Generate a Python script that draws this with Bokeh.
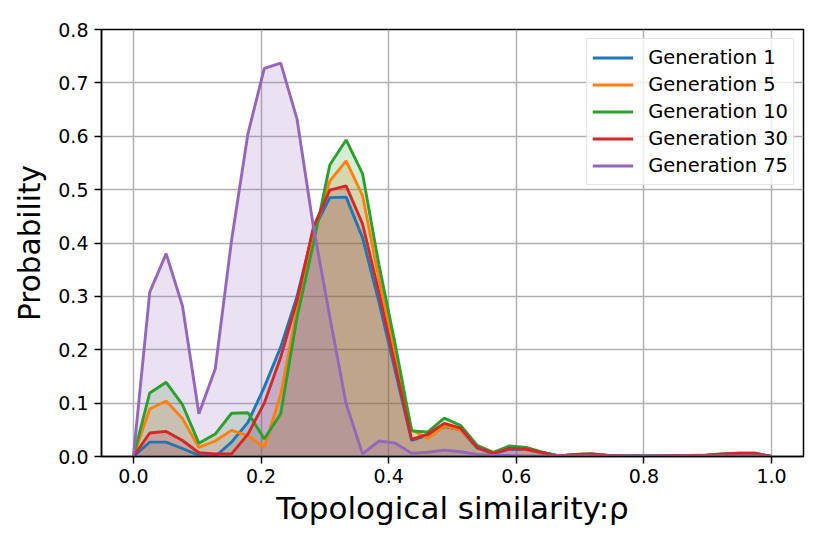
from bokeh.plotting import figure
from bokeh.models import Range1d, FixedTicker, PrintfTickFormatter, Legend, LegendItem
from bokeh.embed import file_html
from bokeh.resources import INLINE

similarity = [0.0, 0.0256, 0.0513, 0.0769, 0.1026, 0.1282, 0.1538, 0.1795, 0.2051, 0.2308,
              0.2564, 0.2821, 0.3077, 0.3333, 0.3590, 0.3846, 0.4103, 0.4359, 0.4615, 0.4872,
              0.5128, 0.5385, 0.5641, 0.5897, 0.6154, 0.6410, 0.6667, 0.6923, 0.7179, 0.7436,
              0.7692, 0.7949, 0.8205, 0.8462, 0.8718, 0.8974, 0.9231, 0.9487, 0.9744, 1.0]

gen1 = [0.0, 0.027, 0.027, 0.015, 0.002, 0.0, 0.027, 0.064, 0.130, 0.205,
        0.300, 0.424, 0.485, 0.486, 0.410, 0.290, 0.160, 0.030, 0.040, 0.056,
        0.050, 0.016, 0.005, 0.014, 0.013, 0.007, 0.001, 0.003, 0.004, 0.002,
        0.001, 0.001, 0.001, 0.002, 0.002, 0.002, 0.004, 0.005, 0.005, 0.0]

gen5 = [0.0, 0.089, 0.104, 0.071, 0.017, 0.029, 0.049, 0.039, 0.017, 0.117,
        0.274, 0.414, 0.516, 0.554, 0.489, 0.334, 0.190, 0.050, 0.034, 0.057,
        0.050, 0.018, 0.006, 0.016, 0.014, 0.007, 0.001, 0.004, 0.005, 0.002,
        0.001, 0.001, 0.001, 0.002, 0.002, 0.002, 0.004, 0.005, 0.005, 0.0]

gen10 = [0.0, 0.119, 0.139, 0.097, 0.025, 0.042, 0.081, 0.082, 0.033, 0.080,
         0.261, 0.399, 0.546, 0.593, 0.530, 0.360, 0.210, 0.048, 0.046, 0.072,
         0.058, 0.021, 0.008, 0.020, 0.017, 0.008, 0.001, 0.004, 0.005, 0.002,
         0.001, 0.002, 0.001, 0.002, 0.002, 0.003, 0.005, 0.006, 0.006, 0.0]

gen30 = [0.0, 0.044, 0.047, 0.030, 0.007, 0.005, 0.005, 0.042, 0.100, 0.186,
         0.292, 0.430, 0.499, 0.507, 0.436, 0.308, 0.170, 0.032, 0.042, 0.062,
         0.053, 0.017, 0.006, 0.015, 0.014, 0.007, 0.001, 0.004, 0.005, 0.002,
         0.001, 0.001, 0.001, 0.002, 0.002, 0.002, 0.005, 0.006, 0.006, 0.0]

gen75 = [0.0, 0.308, 0.380, 0.282, 0.080, 0.164, 0.405, 0.605, 0.727, 0.737,
         0.632, 0.430, 0.262, 0.099, 0.005, 0.029, 0.025, 0.006, 0.008, 0.012,
         0.009, 0.004, 0.002, 0.002, 0.001, 0.001, 0.001, 0.001, 0.001, 0.001,
         0.001, 0.001, 0.001, 0.001, 0.001, 0.001, 0.001, 0.001, 0.001, 0.0]

labels = ["Generation 1", "Generation 5", "Generation 10", "Generation 30", "Generation 75"]
series = [gen1, gen5, gen10, gen30, gen75]
colors = ["#1f77b4", "#ff7f0e", "#2ca02c", "#d62728", "#9467bd"]

x_ticks = [0.0, 0.2, 0.4, 0.6, 0.8, 1.0]
y_ticks = [0.0, 0.1, 0.2, 0.3, 0.4, 0.5, 0.6, 0.7, 0.8]

FONT = "DejaVu Sans"

p = figure(frame_width=702, frame_height=427, output_backend="svg", toolbar_location=None,
           x_range=Range1d(-0.05, 1.05), y_range=Range1d(0, 0.8))
p.min_border_left = 101
p.min_border_top = 29
p.min_border_right = 17
p.min_border_bottom = 60
p.background_fill_color = "white"
p.border_fill_color = "white"
p.outline_line_color = "black"
p.outline_line_width = 1.5
p.outline_line_alpha = 1.0

# fills below all lines (as in the original)
for ys, c in zip(series, colors):
    p.varea(x=similarity, y1=[0] * len(ys), y2=ys, fill_color=c, fill_alpha=0.2)

items = []
for name, ys, c in zip(labels, series, colors):
    r = p.line(similarity, ys, line_color=c, line_width=2.9)
    items.append(LegendItem(label=name, renderers=[r]))

for ax in (p.xaxis[0], p.yaxis[0]):
    ax.axis_line_color = "black"
    ax.axis_line_width = 1.5
    ax.major_tick_line_color = "black"
    ax.major_tick_line_width = 1.5
    ax.major_tick_out = 7
    ax.major_tick_in = 0
    ax.minor_tick_line_color = None
    ax.major_label_text_font = FONT
    ax.major_label_text_font_size = "19px"
    ax.major_label_text_color = "black"
    ax.axis_label_text_font = FONT
    ax.axis_label_text_font_style = "normal"
    ax.axis_label_text_color = "black"
    ax.formatter = PrintfTickFormatter(format="%.1f")

p.xaxis[0].ticker = FixedTicker(ticks=x_ticks)
p.yaxis[0].ticker = FixedTicker(ticks=y_ticks)
p.xaxis[0].axis_label = "Topological similarity:ρ"
p.yaxis[0].axis_label = "Probability"
p.xaxis[0].axis_label_text_font_size = "31px"
p.yaxis[0].axis_label_text_font_size = "29.5px"
p.xaxis[0].major_label_standoff = 5
p.yaxis[0].major_label_standoff = 6
p.xaxis[0].axis_label_standoff = 4
p.yaxis[0].axis_label_standoff = 8

for g in (p.xgrid[0], p.ygrid[0]):
    g.grid_line_color = "#b0b0b0"
    g.grid_line_width = 1.5

legend = Legend(items=items, location="top_right")
legend.margin = 9
legend.padding = 5
legend.spacing = 0
legend.glyph_width = 41
legend.glyph_height = 27
legend.label_height = 27
legend.label_standoff = 15
legend.label_text_font = FONT
legend.label_text_font_size = "19.5px"
legend.label_text_color = "black"
legend.border_line_color = "#cccccc"
legend.border_line_width = 1.2
legend.background_fill_color = "white"
legend.background_fill_alpha = 0.8
p.add_layout(legend)

open("out.html", "w").write(file_html(p, INLINE))
